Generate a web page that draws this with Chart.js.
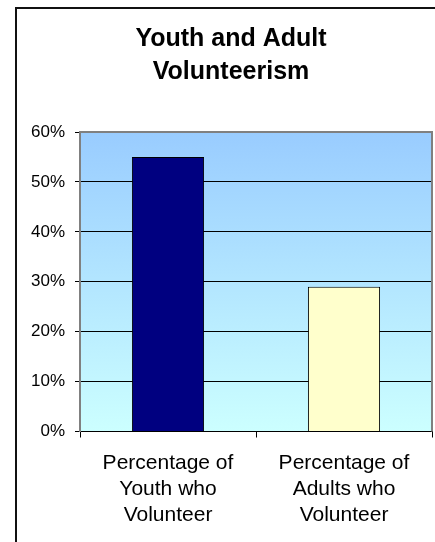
<!DOCTYPE html>
<html>
<head>
<meta charset="utf-8">
<script src="https://cdn.jsdelivr.net/npm/chart.js@4"></script>
<style>
  html, body { margin: 0; padding: 0; background: #fff; overflow: hidden; }
</style>
</head>
<body>
<canvas id="volChart" width="435" height="542"></canvas>
<script>
// youth vs adult volunteer rates (percent)
const titleLines = ["Youth and Adult", "Volunteerism"];
const categories = [
  ["Percentage of", "Youth who", "Volunteer"],
  ["Percentage of", "Adults who", "Volunteer"]
];
const values = [55, 29];
const barColors = ["#000080", "#FFFFCC"];
const yMax = 60;
const yStep = 10;

const FONT = "'Liberation Sans', Arial, sans-serif";

// gradient plot background + outer frame
const plotBackground = {
  id: "plotBackground",
  beforeDraw(chart) {
    const { ctx, chartArea: a } = chart;
    ctx.save();
    const g = ctx.createLinearGradient(0, a.top, 0, a.bottom);
    g.addColorStop(0, "#99CCFF");
    g.addColorStop(1, "#CCFFFF");
    ctx.fillStyle = g;
    ctx.fillRect(a.left, a.top, a.right - a.left, a.bottom - a.top);
    // outer frame (runs off the right/bottom edge)
    ctx.strokeStyle = "#111";
    ctx.lineWidth = 2;
    ctx.strokeRect(16, 8, 440, 560);
    ctx.restore();
  },
  afterDatasetsDraw(chart) {
    const { ctx, chartArea: a } = chart;
    ctx.save();
    ctx.strokeStyle = "#808080";
    ctx.lineWidth = 2;
    ctx.beginPath();
    ctx.moveTo(a.left, a.top);
    ctx.lineTo(a.right, a.top);
    ctx.lineTo(a.right, a.bottom);
    ctx.stroke();
    ctx.restore();
  }
};

new Chart(document.getElementById("volChart"), {
  type: "bar",
  data: {
    labels: categories,
    datasets: [{
      data: values,
      backgroundColor: barColors,
      borderColor: "#000",
      borderWidth: 1,
      barPercentage: 0.41,
      categoryPercentage: 1
    }]
  },
  options: {
    responsive: false,
    animation: false,
    layout: { padding: { left: 30, right: 3, top: 0, bottom: 1 } },
    plugins: {
      legend: { display: false },
      tooltip: { enabled: false },
      title: {
        display: true,
        text: titleLines,
        color: "#000",
        font: { family: FONT, size: 25, weight: "bold", lineHeight: 1.3 },
        padding: { top: 23, bottom: 44 }
      }
    },
    scales: {
      x: {
        grid: {
          offset: true,
          drawOnChartArea: false,
          drawTicks: true,
          tickLength: 6,
          tickColor: "#000"
        },
        border: { color: "#000", width: 1 },
        ticks: {
          color: "#000",
          padding: 13,
          maxRotation: 0,
          font: { family: FONT, size: 21, lineHeight: 1.23 }
        }
      },
      y: {
        min: 0,
        max: yMax,
        afterFit(scale) { scale.width = 50; },
        grid: {
          color: ctx => ctx.tick && ctx.tick.value === yMax ? "#808080" : "#000",
          tickColor: "#000",
          tickLength: 5,
          lineWidth: 1
        },
        border: { color: "#808080", width: 2 },
        ticks: {
          stepSize: yStep,
          color: "#000",
          padding: 10,
          font: { family: FONT, size: 17 },
          callback: v => v + "%"
        }
      }
    }
  },
  plugins: [plotBackground]
});
</script>
</body>
</html>
